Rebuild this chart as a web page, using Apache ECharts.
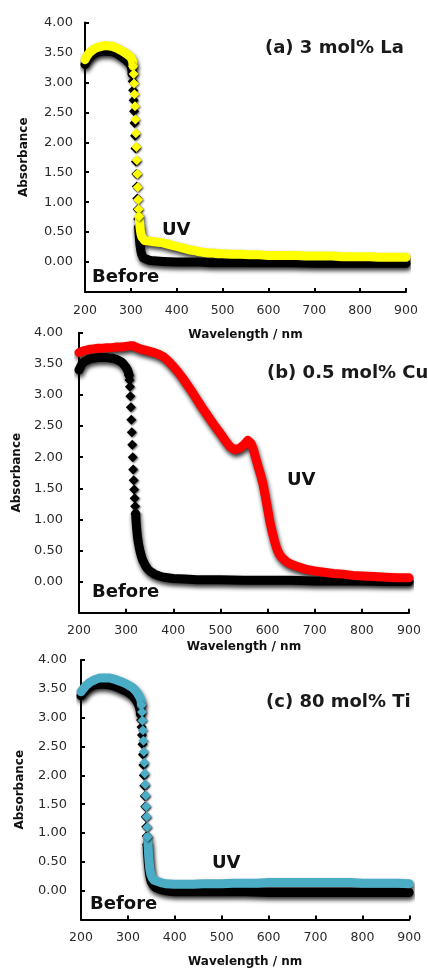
<!DOCTYPE html>
<html>
<head>
<meta charset="utf-8">
<script src="https://cdn.jsdelivr.net/npm/echarts@6/dist/echarts.min.js"></script>
<style>
html,body{margin:0;padding:0;background:#fff;}
#chart{width:428px;height:970px;}
</style>
</head>
<body>
<div id="chart"></div>
<script>
// ---------- Data ----------
var xTicks = [200, 300, 400, 500, 600, 700, 800, 900];
var yTicks = [0, 0.5, 1, 1.5, 2, 2.5, 3, 3.5, 4];

// (a) 3 mol% La
var aUvWl = [200,205,210,220,230,240,250,260,270,280,290,295,300,303,304,305,306,307,308,309,
             310,311,312,313,314,315,316,317,318,319,320,321,322,324,326,330,340,350,360,370,
             380,390,400,410,420,430,440,450,460,470,480,490,500,520,540,560,580,600,620,640,
             660,680,700,720,740,760,780,800,820,840,860,880,900];
var aUv   = [3.38,3.45,3.50,3.56,3.59,3.61,3.61,3.60,3.57,3.53,3.48,3.45,3.42,3.39,3.35,3.27,3.14,2.98,2.80,2.60,
             2.38,2.15,1.92,1.70,1.47,1.25,1.04,0.88,0.76,0.66,0.58,0.52,0.47,0.42,0.39,0.36,0.35,0.34,0.33,0.32,
             0.30,0.28,0.26,0.24,0.22,0.20,0.19,0.17,0.16,0.15,0.15,0.14,0.14,0.13,0.13,0.12,0.12,0.11,0.11,0.11,
             0.11,0.10,0.10,0.10,0.10,0.09,0.09,0.09,0.09,0.08,0.08,0.08,0.08];
var aBeWl = [200,205,210,220,230,240,250,260,270,280,290,295,300,302,303,304,305,306,307,308,
             309,310,311,312,313,314,315,316,317,318,319,320,322,324,327,330,340,350,370,400,
             425,450,475,500,550,600,650,700,750,800,850,900];
var aBe   = [3.30,3.37,3.42,3.48,3.51,3.52,3.52,3.51,3.48,3.43,3.37,3.33,3.28,3.22,3.14,3.02,2.87,2.70,2.52,2.32,
             2.11,1.90,1.68,1.47,1.26,1.06,0.88,0.72,0.58,0.46,0.36,0.28,0.18,0.12,0.07,0.05,0.03,0.02,0.01,0.00,
             0.00,0.00,-0.01,-0.01,-0.01,-0.01,-0.01,-0.02,-0.02,-0.02,-0.02,-0.02];

// (b) 0.5 mol% Cu
var bUvWl = [200,210,220,230,240,250,260,270,280,290,300,310,315,320,330,340,350,360,370,380,
             390,400,410,420,430,440,450,460,470,480,490,500,510,520,530,540,550,558,565,570,
             575,580,585,590,595,600,605,610,615,620,625,630,640,650,660,680,700,720,740,760,
             780,800,825,850,875,900];
var bUv   = [3.68,3.71,3.73,3.74,3.75,3.75,3.76,3.76,3.77,3.77,3.78,3.79,3.79,3.77,3.74,3.72,3.70,3.68,3.65,3.61,
             3.54,3.46,3.37,3.27,3.16,3.05,2.93,2.81,2.70,2.59,2.48,2.38,2.27,2.17,2.12,2.14,2.20,2.27,2.22,2.12,
             1.98,1.85,1.72,1.58,1.38,1.17,0.96,0.79,0.64,0.52,0.44,0.39,0.32,0.28,0.25,0.20,0.17,0.15,0.13,0.12,
             0.10,0.09,0.08,0.07,0.06,0.06];
var bBeWl = [200,205,210,220,230,240,250,260,270,280,290,295,300,303,305,306,307,308,309,310,
             311,312,313,314,315,316,317,318,319,320,321,322,323,324,326,328,330,333,336,340,
             345,350,360,370,380,400,425,450,500,550,600,650,700,750,800,850,900];
var bBe   = [3.40,3.48,3.53,3.57,3.59,3.60,3.60,3.60,3.59,3.57,3.53,3.49,3.44,3.40,3.36,3.32,3.24,3.13,2.98,2.80,
             2.60,2.40,2.20,2.00,1.80,1.63,1.48,1.34,1.21,1.09,0.98,0.88,0.80,0.72,0.62,0.54,0.47,0.39,0.33,0.27,
             0.21,0.17,0.12,0.09,0.07,0.05,0.04,0.03,0.03,0.02,0.02,0.02,0.01,0.01,0.01,0.00,0.00];

// (c) 80 mol% Ti
var cUvWl = [200,210,220,230,240,250,260,270,280,290,300,310,315,320,325,328,329,330,331,332,
             333,334,335,336,337,338,339,340,341,342,343,344,345,346,347,349,352,356,360,370,
             380,400,420,440,460,480,500,525,550,575,600,625,650,675,700,725,750,775,800,825,
             850,875,900];
var cUv   = [3.45,3.55,3.62,3.66,3.69,3.69,3.69,3.67,3.64,3.61,3.57,3.52,3.48,3.43,3.36,3.30,3.22,3.10,2.95,2.78,
             2.60,2.41,2.22,2.03,1.84,1.65,1.46,1.28,1.10,0.93,0.78,0.64,0.52,0.43,0.36,0.28,0.22,0.18,0.16,0.14,
             0.12,0.11,0.11,0.11,0.12,0.12,0.12,0.13,0.13,0.13,0.14,0.14,0.14,0.14,0.14,0.14,0.14,0.14,0.13,0.13,
             0.13,0.13,0.12];
var cBeWl = [200,210,220,230,240,250,260,270,280,290,300,310,315,320,324,326,327,328,329,330,
             331,332,333,334,335,336,337,338,339,340,341,342,343,344,346,348,350,355,360,370,
             380,400,450,500,550,600,650,700,750,800,850,900];
var cBe   = [3.38,3.48,3.54,3.57,3.58,3.58,3.57,3.55,3.52,3.48,3.44,3.38,3.33,3.27,3.20,3.13,3.06,2.96,2.84,2.70,
             2.54,2.36,2.18,2.00,1.82,1.64,1.46,1.28,1.11,0.95,0.80,0.66,0.54,0.44,0.30,0.21,0.15,0.08,0.05,0.02,
             0.00,-0.02,-0.02,-0.02,-0.02,-0.03,-0.03,-0.03,-0.03,-0.03,-0.03,-0.03];

var panelTitles = ['(a) 3 mol% La', '(b) 0.5 mol% Cu', '(c) 80 mol% Ti'];
var uvColors = ['#ffff00', '#ff0000', '#4bacc6'];

// ---------- Layout / style ----------
var grids = [
  {left: 85, top: 22.5, width: 321, height: 269.5},
  {left: 79, top: 332.7, width: 330, height: 280},
  {left: 81, top: 660, width: 328.3, height: 259.5}
];
var xNameGaps = [37, 28, 36];
var yLabelMargins = [12, 16, 14];
var textPos = [
  {title: [265, 48], uv: [162, 230], before: [92, 277]},
  {title: [267, 373], uv: [287, 480], before: [92, 592]},
  {title: [266, 702], uv: [212, 863], before: [90, 904]}
];
// wavelength spans where the steep edge is drawn as separate beads (no band line)
var beadSpans = [
  [[303, 317], [305, 318]],
  [[306, 320], null],
  [[327, 341], [329, 342]]
];

function zip(xs, ys) {
  var out = [];
  var n = Math.min(xs.length, ys.length);
  for (var i = 0; i < n; i++) out.push([xs[i], ys[i]]);
  return out;
}
function bandData(pts, span) {
  return pts.map(function (d) {
    if (span && d[0] > span[0] && d[0] < span[1]) return [d[0], null];
    return d;
  });
}
function beadData(pts, span) {
  if (!span) return [];
  return pts.filter(function (d) { return d[0] >= span[0] && d[0] <= span[1]; });
}

var FONT = '"DejaVu Sans", Arial, sans-serif';
var xAxes = [], yAxes = [], series = [], graphics = [];
var data = [
  [zip(aBeWl, aBe), zip(aUvWl, aUv)],
  [zip(bBeWl, bBe), zip(bUvWl, bUv)],
  [zip(cBeWl, cBe), zip(cUvWl, cUv)]
];

for (var p = 0; p < 3; p++) {
  xAxes.push({
    type: 'value', gridIndex: p, min: xTicks[0], max: xTicks[xTicks.length - 1], interval: 100,
    name: 'Wavelength / nm', nameLocation: 'middle', nameGap: xNameGaps[p],
    nameTextStyle: {fontFamily: FONT, fontWeight: 'bold', fontSize: 12, color: '#111'},
    axisLine: {show: true, onZero: false, lineStyle: {color: '#000', width: 2}},
    axisTick: {show: true, inside: true, length: 4, lineStyle: {color: '#000', width: 2}},
    axisLabel: {fontFamily: FONT, fontSize: 12.5, color: '#2a2a2a', margin: 12},
    splitLine: {show: false}
  });
  yAxes.push({
    type: 'value', gridIndex: p, min: -0.5, max: 4, interval: 0.5,
    name: 'Absorbance', nameLocation: 'middle', nameGap: 55, nameRotate: 90,
    nameTextStyle: {fontFamily: FONT, fontWeight: 'bold', fontSize: 12, color: '#111'},
    axisLine: {show: true, onZero: false, lineStyle: {color: '#000', width: 2}},
    axisTick: {show: true, inside: true, length: 4, lineStyle: {color: '#000', width: 2}},
    axisLabel: {fontFamily: FONT, fontSize: 13, color: '#2a2a2a', margin: yLabelMargins[p],
      formatter: function (v) { return v < 0 ? '' : v.toFixed(2); }},
    splitLine: {show: false}
  });
  var cols = ['#000000', uvColors[p]];
  for (var s = 0; s < 2; s++) {
    series.push({
      type: 'line', xAxisIndex: p, yAxisIndex: p,
      data: bandData(data[p][s], beadSpans[p][s]),
      showSymbol: false, connectNulls: false,
      lineStyle: {color: cols[s], width: 9, cap: 'round', join: 'round',
        shadowColor: 'rgba(0,0,0,0.8)', shadowBlur: 4, shadowOffsetX: 1, shadowOffsetY: 3},
      emphasis: {disabled: true}, silent: true,
      z: 2 + 2 * s
    });
    series.push({
      type: 'scatter', xAxisIndex: p, yAxisIndex: p,
      data: beadData(data[p][s], beadSpans[p][s]),
      symbol: 'diamond', symbolSize: 10,
      itemStyle: {color: cols[s], opacity: 1, shadowColor: 'rgba(0,0,0,0.6)', shadowBlur: 2, shadowOffsetX: 1, shadowOffsetY: 1},
      emphasis: {disabled: true}, silent: true,
      z: 3 + 2 * s
    });
  }
  var tp = textPos[p];
  graphics.push({type: 'text', x: tp.title[0], y: tp.title[1],
    style: {text: panelTitles[p], font: 'bold 18px ' + FONT, fill: '#1a1a1a', textVerticalAlign: 'middle', verticalAlign: 'middle'}});
  graphics.push({type: 'text', x: tp.uv[0], y: tp.uv[1],
    style: {text: 'UV', font: 'bold 18px ' + FONT, fill: '#111', textVerticalAlign: 'middle', verticalAlign: 'middle'}});
  graphics.push({type: 'text', x: tp.before[0], y: tp.before[1],
    style: {text: 'Before', font: 'bold 18px ' + FONT, fill: '#111', textVerticalAlign: 'middle', verticalAlign: 'middle'}});
}

var chart = echarts.init(document.getElementById('chart'), null, {renderer: 'canvas'});
chart.setOption({
  animation: false,
  backgroundColor: '#fff',
  grid: grids,
  xAxis: xAxes,
  yAxis: yAxes,
  series: series,
  graphic: graphics
});
</script>
</body>
</html>
